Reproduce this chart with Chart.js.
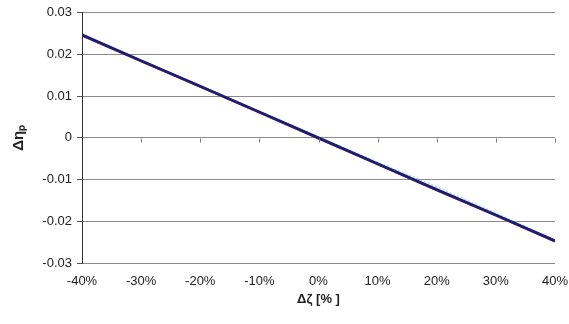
<!DOCTYPE html>
<html>
<head>
<meta charset="utf-8">
<script src="https://cdn.jsdelivr.net/npm/chart.js@4.4.1/dist/chart.umd.min.js"></script>
<style>
  html, body { margin: 0; padding: 0; background: #fff; }
  #wrap { width: 569px; height: 324px; }
</style>
</head>
<body>
<div id="wrap"><canvas id="c" width="569" height="324"></canvas></div>
<script>
// Relative change of the parameter (%) and the resulting efficiency change
const deltaZeta = [-40, -30, -20, -10, 0, 10, 20, 30, 40];
const etaMain   = [0.0247, 0.0185, 0.0124, 0.0062, 0, -0.0062, -0.0124, -0.0185, -0.0247];
const etaUpper  = [0.0246, 0.0184, 0.0123, 0.0061, -0.0001, -0.0063, -0.0125, -0.0186, -0.0248];
const etaFaint  = [0.0247, 0.0186, 0.0125, 0.0063, 0.0002, -0.0058, -0.0117, -0.0180, -0.0245];
const xTicks = [-40, -30, -20, -10, 0, 10, 20, 30, 40];
const yTicks = [-0.03, -0.02, -0.01, 0, 0.01, 0.02, 0.03];

const pts = arr => deltaZeta.map((x, i) => ({ x: x, y: arr[i] }));

// small downward tick marks on the category axis, which crosses at y = 0
const zeroAxisTicks = {
  id: 'zeroAxisTicks',
  afterDraw(chart) {
    const xs = chart.scales.x, ys = chart.scales.y;
    const ctx = chart.ctx;
    const y0 = Math.round(ys.getPixelForValue(0)) + 0.5;
    ctx.save();
    ctx.strokeStyle = '#777';
    ctx.lineWidth = 1;
    ctx.beginPath();
    xTicks.forEach(v => {
      if (v === -40) return;
      const px = Math.round(xs.getPixelForValue(v)) + 0.5;
      ctx.moveTo(px, y0);
      ctx.lineTo(px, y0 + 4);
    });
    ctx.stroke();
    ctx.restore();
  }
};

new Chart(document.getElementById('c'), {
  type: 'line',
  data: {
    datasets: [
      { data: pts(etaFaint), borderColor: 'rgba(150,200,235,0.7)', borderWidth: 1.5, borderDash: [2, 2], pointRadius: 0, tension: 0, order: 3 },
      { data: pts(etaUpper), borderColor: '#c23aa8', borderWidth: 2.5, pointRadius: 0, tension: 0, order: 2 },
      { data: pts(etaMain), borderColor: '#1c1f6e', borderWidth: 2.8, pointRadius: 0, tension: 0, order: 1 }
    ]
  },
  options: {
    responsive: false,
    animation: false,
    devicePixelRatio: 1,
    layout: { padding: { left: 8, right: 14, top: 1, bottom: 14 } },
    plugins: { legend: { display: false }, tooltip: { enabled: false } },
    scales: {
      x: {
        type: 'linear',
        min: -40, max: 40,
        afterBuildTicks: s => { s.ticks = xTicks.map(v => ({ value: v })); },
        afterFit: s => { s.height = 324 - 263 - 14; s.paddingRight = 0; s.paddingLeft = 0; },
        grid: { display: false, drawTicks: false },
        border: { display: false },
        ticks: {
          padding: 11,
          color: '#222',
          font: { family: 'Liberation Sans, Arial, sans-serif', size: 13 },
          callback: v => v + '%',
          maxRotation: 0
        },
        title: {
          display: true,
          text: 'Δζ [% ]',
          color: '#222',
          font: { family: 'Liberation Sans, Arial, sans-serif', size: 13, weight: 'bold' },
          padding: { top: 2, bottom: 3 }
        }
      },
      y: {
        min: -0.03, max: 0.03,
        afterBuildTicks: s => { s.ticks = yTicks.map(v => ({ value: v })); },
        afterFit: s => { s.width = 82 - 8; },
        grid: { color: '#8a8a8a', lineWidth: 1, tickLength: 5, tickColor: '#555' },
        border: { display: true, color: '#333', width: 1 },
        ticks: {
          padding: 5,
          color: '#222',
          font: { family: 'Liberation Sans, Arial, sans-serif', size: 13 },
          callback: v => (Math.abs(v) < 1e-9 ? '0' : v.toFixed(2))
        },
        title: {
          display: true,
          text: 'Δηₚ',
          color: '#222',
          font: { family: 'Liberation Sans, Arial, sans-serif', size: 15, weight: 'bold' },
          padding: { top: 2, bottom: 2 }
        }
      }
    }
  },
  plugins: [zeroAxisTicks]
});
</script>
</body>
</html>
